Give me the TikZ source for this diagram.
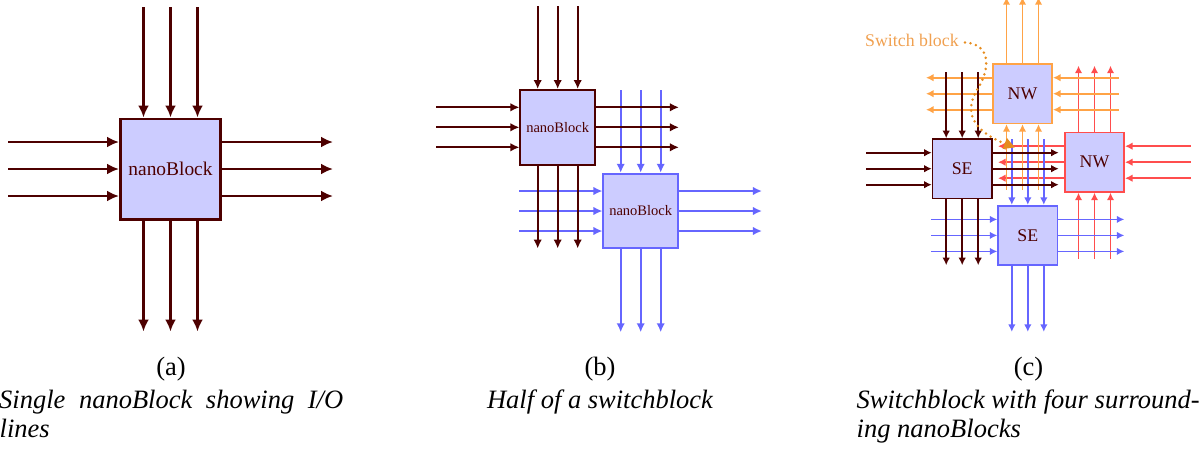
\documentclass[tikz,border=0pt]{standalone}
\usepackage{fontspec}
\setmainfont{Liberation Serif}
\usetikzlibrary{arrows.meta,calc}
\definecolor{dk}{RGB}{77,0,0}
\definecolor{bl}{RGB}{102,102,255}
\definecolor{og}{RGB}{255,163,70}
\definecolor{rd}{RGB}{255,77,77}
\definecolor{fillc}{RGB}{204,204,255}
\definecolor{dotc}{RGB}{230,140,30}
\definecolor{sbtext}{RGB}{240,160,80}

% #1 node, #2 anchor, #3 outward vector, #4 perpendicular vector,
% #5 length, #6 spacing, #7 arrow direction, #8 style
\newcommand\iol[8]{%
  \foreach \k in {-1,0,1}{
    \coordinate (#1-#2-i\k) at ($(#1.#2)+{\k*#6}*(#4)$);
    \coordinate (#1-#2-o\k) at ($(#1-#2-i\k)+{#5}*(#3)$);
    \draw[#8,#7] (#1-#2-i\k) -- (#1-#2-o\k);
  }}
% SE block: inputs from north and west, outputs to east and south
\newcommand\seLines[4]{%
  \iol{#1}{north}{0,-1}{1,0}{#2}{#3}{<-}{#4}
  \iol{#1}{west}{-1,0}{0,1}{#2}{#3}{<-}{#4}
  \iol{#1}{east}{1,0}{0,1}{#2}{#3}{->}{#4}
  \iol{#1}{south}{0,1}{1,0}{#2}{#3}{->}{#4}}
% NW block: inputs from east and south, outputs to north and west
\newcommand\nwLines[4]{%
  \iol{#1}{north}{0,-1}{1,0}{#2}{#3}{->}{#4}
  \iol{#1}{west}{-1,0}{0,1}{#2}{#3}{->}{#4}
  \iol{#1}{east}{1,0}{0,1}{#2}{#3}{<-}{#4}
  \iol{#1}{south}{0,1}{1,0}{#2}{#3}{<-}{#4}}

\tikzset{
  blk/.style={draw, fill=fillc, text=dk, minimum size=#1, inner sep=0pt},
  wa/.style={line width=2.6pt, >={Latex[length=12pt,width=11pt]}},
  wb/.style={line width=2pt, >={Latex[length=9pt,width=8.5pt]}},
  wc/.style={line width=1.7pt, >={Latex[length=7.5pt,width=7.5pt]}},
  capfont/.style={font=\fontsize{26.5}{30}\selectfont},
  dotline/.style={dotc, line width=2.8pt, line cap=round, dash pattern=on 0pt off 5.6pt,
    -{Triangle[length=11pt,width=11pt]}},
}

\begin{document}
\begin{tikzpicture}[x=1pt,y=-1pt]
\useasboundingbox (0,0) rectangle (1203,450);

% ---------------- (a) ----------------
\node[blk=100.4pt, draw=dk, wa, font=\fontsize{19.4}{22}\selectfont] (A) at (170.5,169) {nanoBlock};
\seLines{A}{111}{27}{wa,dk}

% ---------------- (b) ----------------
\node[blk=74.5pt, draw=bl, wb, font=\fontsize{14.5}{17}\selectfont] (B2) at (640.7,211) {nanoBlock};
\seLines{B2}{83}{20}{wb,bl}
\node[blk=74.5pt, draw=dk, wb, font=\fontsize{14.5}{17}\selectfont] (B1) at (557.7,127.3) {nanoBlock};
\seLines{B1}{83}{20}{wb,dk}

% ---------------- (c) ----------------
\node[blk=59.3pt, draw=rd, wc, font=\fontsize{17.8}{20}\selectfont] (RNW) at (1094.5,162.2) {NW};
\nwLines{RNW}{66}{16}{wc,rd}
\node[blk=59.3pt, draw=og, wc, font=\fontsize{17.8}{20}\selectfont] (ONW) at (1022.5,93.7) {NW};
\nwLines{ONW}{66}{16}{wc,og}
\node[blk=59.3pt, draw=bl, wc, font=\fontsize{17.8}{20}\selectfont] (BSE) at (1027.8,235.4) {SE};
\seLines{BSE}{66}{16}{wc,bl}
\node[blk=59.3pt, draw=dk, wc, font=\fontsize{17.8}{20}\selectfont] (DSE) at (962.2,168.7) {SE};
\seLines{DSE}{66}{16}{wc,dk}

% switch block annotation
\node[anchor=base west, inner sep=0pt, text=sbtext, font=\fontsize{17.8}{20}\selectfont] (sb) at (865,46.7) {Switch block};
\coordinate (sbstart) at (965,42.5);
\coordinate (sbmid) at (977,90);
\coordinate (sbtip) at (1015,147.5);
\draw[dotline] (sbstart) .. controls (992,44) and (990,70) .. (sbmid)
  .. controls (965,110) and (970,130) .. (sbtip);

% ---------------- captions ----------------
\node[anchor=base, inner sep=0pt, capfont] (la) at (171,375) {(a)};
\node[anchor=base, inner sep=0pt, capfont] (lb) at (600,375) {(b)};
\node[anchor=base, inner sep=0pt, capfont] (lc) at (1028.5,375) {(c)};

\node[anchor=base west, inner sep=0pt, capfont] (ca1) at (-1,408)
  {\makebox[344pt][s]{\itshape Single nanoBlock showing I/O}};
\node[anchor=base west, inner sep=0pt, capfont] (ca2) at (-0.5,437.5) {\itshape lines};
\node[anchor=base, inner sep=0pt, capfont] (cb1) at (600,408) {\itshape Half of a switchblock};
\node[anchor=base west, inner sep=0pt, capfont] (cc1) at (856.5,408)
  {\makebox[343pt][s]{\itshape Switchblock with four surround-}};
\node[anchor=base west, inner sep=0pt, capfont] (cc2) at (856.5,437.5) {\itshape ing nanoBlocks};
\end{tikzpicture}
\end{document}
